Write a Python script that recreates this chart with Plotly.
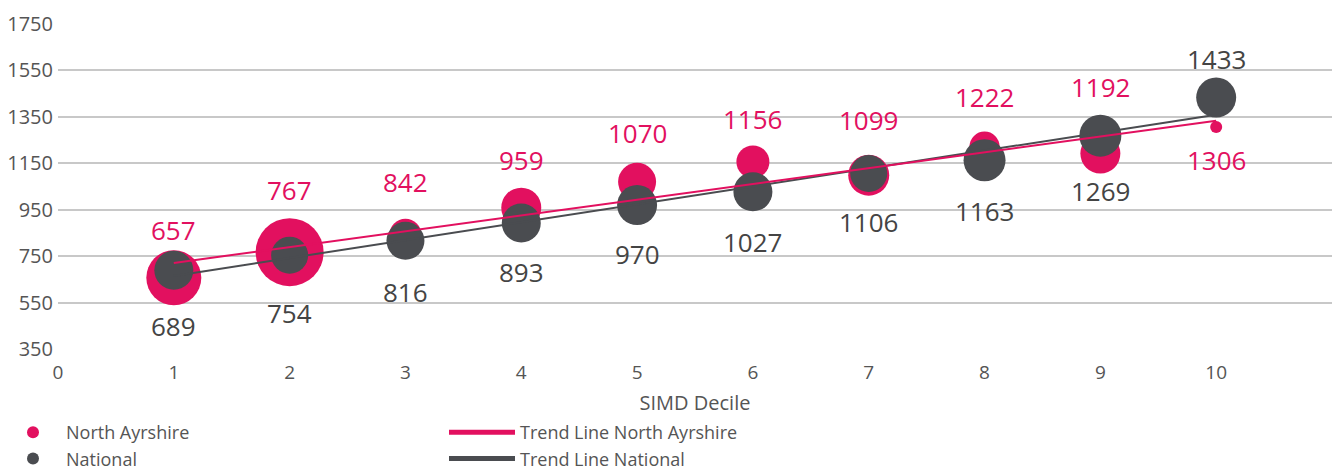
import numpy as np
import plotly.graph_objects as go

# ---- data ----
deciles = [1, 2, 3, 4, 5, 6, 7, 8, 9, 10]
north_ayrshire = [657, 767, 842, 959, 1070, 1156, 1099, 1222, 1192, 1306]
national = [689, 754, 816, 893, 970, 1027, 1106, 1163, 1269, 1433]
# relative bubble weights (as drawn)
north_ayrshire_weight = [55, 68, 32, 40, 38, 33, 41, 30, 40, 12]
national_weight = [39, 37, 38, 39, 40, 39, 37, 42, 42, 40]
x_ticks = [0, 1, 2, 3, 4, 5, 6, 7, 8, 9, 10]
y_ticks = [350, 550, 750, 950, 1150, 1350, 1550, 1750]

# ---- style ----
PINK = "#E2105F"
GREY = "#4A4C50"
FONT = "Open Sans"
na_label_shift = [48, 62, 53, 48, 49, 43, 55, 50, 67, -33]
nat_label_shift = [-56, -58, -51, -49, -49, -50, -48, -51, -55, 39]

fig = go.Figure()

fig.add_trace(go.Scatter(
    x=deciles, y=north_ayrshire, mode="markers", name="North Ayrshire",
    marker=dict(color=PINK, size=north_ayrshire_weight, sizemode="diameter", sizeref=1,
                line=dict(width=0), opacity=1),
    legend="legend",
))
fig.add_trace(go.Scatter(
    x=deciles, y=national, mode="markers", name="National",
    marker=dict(color=GREY, size=national_weight, sizemode="diameter", sizeref=1,
                line=dict(width=0), opacity=1),
    legend="legend",
))

# trend lines (least squares fit)
xs = np.array(deciles, dtype=float)
x_end = np.array([xs.min(), xs.max()])
m_nat, c_nat = np.polyfit(xs, np.array(national, dtype=float), 1)
m_na, c_na = np.polyfit(xs, np.array(north_ayrshire, dtype=float), 1)

fig.add_trace(go.Scatter(
    x=x_end, y=m_nat * x_end + c_nat, mode="lines", name="Trend Line National",
    line=dict(color=GREY, width=2), legend="legend2", legendrank=2,
))
fig.add_trace(go.Scatter(
    x=x_end, y=m_na * x_end + c_na, mode="lines", name="Trend Line North Ayrshire",
    line=dict(color=PINK, width=2), legend="legend2", legendrank=1,
))

annotations = []
for xi, v, s in zip(deciles, north_ayrshire, na_label_shift):
    annotations.append(dict(x=xi, y=v, text=str(v), showarrow=False, yshift=s,
                            font=dict(family=FONT, size=26, color=PINK)))
for xi, v, s in zip(deciles, national, nat_label_shift):
    annotations.append(dict(x=xi, y=v, text=str(v), showarrow=False, yshift=s,
                            font=dict(family=FONT, size=26, color="#444444")))

legend_common = dict(
    orientation="v", xref="container", yref="container",
    yanchor="top", xanchor="left", y=(472 - 414) / 472,
    font=dict(family=FONT, size=18, color="#555555"),
    itemsizing="constant", tracegroupgap=0, traceorder="normal",
    bgcolor="rgba(0,0,0,0)", borderwidth=0,
)

fig.update_layout(
    width=1334, height=472,
    margin=dict(l=58, r=2, t=24, b=123, autoexpand=False),
    paper_bgcolor="white", plot_bgcolor="white",
    font=dict(family=FONT, color="#555555", size=18),
    annotations=annotations,
    showlegend=True,
    legend=dict(x=0, itemwidth=56, **legend_common),
    legend2=dict(x=444 / 1334, itemwidth=66, **legend_common),
    xaxis=dict(
        range=[0, 11], tickmode="array", tickvals=x_ticks, ticktext=[str(t) for t in x_ticks],
        showgrid=False, zeroline=False, showline=False, ticks="", automargin=False,
        tickfont=dict(size=19, color="#555555"), ticklabelstandoff=10,
        title=dict(text="SIMD Decile", font=dict(size=20, color="#555555"), standoff=11),
    ),
    yaxis=dict(
        range=[350, 1750], tickmode="array", tickvals=y_ticks, automargin=False,
        showgrid=True, gridcolor="#C8C8C8", gridwidth=1.5, zeroline=False, showline=False,
        ticks="", tickfont=dict(size=20, color="#555555"), ticklabelstandoff=4,
    ),
)

fig.write_html("out.html", post_script="document.body.style.margin='0';",
               config={"displayModeBar": False})
